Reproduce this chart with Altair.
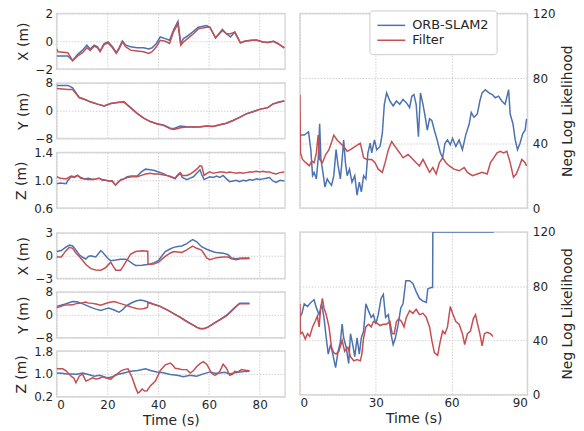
import altair as alt
import pandas as pd

BLUE = "#4C72B0"
RED = "#C44E52"
SERIES = ["ORB-SLAM2", "Filter"]
FONT = "DejaVu Sans"
INK = "#262626"

# ---------------- Trial 1 (top) ----------------
t1_x_orb = [[0,-1.06],[4.4,-1.06],[6.3,-1.39],[8.3,-0.94],[10.2,-0.64],[11.9,-0.28],[13.2,-0.56],[14.8,-0.28],[16.1,-0.4],[17.1,-0.7],[18.7,-0.16],[20.3,-0.05],[22,-0.4],[23.5,-0.82],[24.6,-0.47],[25.9,0.02],[27.2,-0.28],[29.1,-0.4],[31.7,-0.47],[34.3,-0.47],[36.3,-0.56],[37.6,-0.47],[39.3,-0.16],[40.8,0.31],[42.8,0.19],[44.5,0.07],[46,0.78],[47.8,1.44],[48.9,-0.16],[50,0.19],[51.9,0.42],[53.9,0.71],[55.8,1.01],[59.1,1.13],[60.4,1.01],[62.6,0.24],[65.3,0.85],[66.9,0.54],[68.5,0.31],[70.2,0.66],[72.4,-0.12],[74.1,0],[76,0.05],[78.7,0.09],[81.3,-0.05],[83.2,-0.09],[85.4,0],[87.1,-0.16],[89.7,-0.47]]
t1_x_filter = [[0,-0.55],[0.5,-0.75],[4.4,-0.82],[6.3,-1.39],[8.3,-1.06],[10.2,-0.82],[11.9,-0.47],[13.2,-0.66],[14.8,-0.35],[16.1,-0.47],[17.1,-0.75],[18.7,-0.24],[20.3,-0.12],[22,-0.47],[23.5,-0.87],[24.6,-0.55],[25.9,-0.05],[27.2,-0.4],[29.1,-0.64],[31.7,-0.7],[34.3,-0.75],[36.3,-0.87],[37.6,-0.75],[39.3,-0.4],[40.8,0.07],[42.8,0],[44.5,-0.16],[46,0.66],[47.8,1.25],[48.9,-0.28],[50,-0.05],[51.9,0.24],[53.9,0.54],[55.8,0.89],[59.1,1.01],[60.4,1.01],[62.6,0.24],[65.3,0.78],[66.9,0.54],[68.5,0.54],[70.2,0.66],[72.4,-0.12],[74.1,0],[76,0.05],[78.7,0.09],[81.3,-0.05],[83.2,-0.09],[85.4,0],[87.1,-0.16],[89.7,-0.47]]

t1_y_orb = [[0,7.3],[4.4,7.3],[6.3,6.6],[8.9,3.8],[10.9,3.3],[13.5,2.5],[16.1,1.9],[18.7,1.4],[21.3,2.1],[23.9,2.4],[26.5,2.6],[29.1,0.9],[31.7,-0.75],[34.3,-2.1],[36.9,-3.1],[39.5,-3.7],[42.1,-4.1],[44.8,-5.0],[46.3,-5.1],[48.7,-4.4],[51.3,-4.6],[53.9,-4.7],[56.5,-4.6],[59.1,-4.4],[61.6,-4.5],[64.3,-4.0],[66.9,-3.6],[69.5,-2.8],[72.1,-1.9],[74.7,-0.9],[77.3,-0.3],[79.9,0.4],[83.2,0.9],[85.1,1.9],[87.7,2.5],[89.7,2.8]]
t1_y_filter = [[0,6.4],[4.4,6.1],[6.3,6.1],[8.9,3.8],[10.9,3.3],[13.5,2.5],[16.1,1.9],[18.7,1.4],[21.3,2.1],[23.9,2.4],[26.5,2.5],[29.1,0.9],[31.7,-0.75],[34.3,-2.1],[36.9,-3.1],[39.5,-3.8],[42.1,-4.2],[44.8,-5.2],[46.3,-5.4],[48.7,-4.9],[51.3,-4.7],[53.9,-4.7],[56.5,-4.7],[59.1,-4.4],[61.6,-4.5],[64.3,-4.0],[66.9,-3.6],[69.5,-2.8],[72.1,-1.9],[74.7,-0.9],[77.3,-0.3],[79.9,0.4],[83.2,0.9],[85.1,1.9],[87.7,2.5],[89.7,2.8]]

t1_z_orb = [[0,0.95],[1.5,0.96],[3.7,0.95],[4.5,1.0],[5.7,1.05],[7,1.04],[8.3,1.07],[9.5,1.04],[10.9,1.02],[12.5,1.03],[14.1,1.01],[15.5,1.02],[16.7,1.03],[18,1.0],[19.3,1.0],[20.6,0.99],[21.9,0.99],[23.2,0.93],[24.2,0.97],[25.2,1.01],[26.5,1.02],[27.8,1.05],[29.5,1.06],[31.7,1.06],[33.4,1.12],[35,1.16],[36.9,1.15],[38.5,1.14],[40.2,1.12],[41.8,1.1],[43.4,1.07],[45,1.05],[46.7,1.02],[47.5,1.06],[48.7,1.1],[49.5,1.04],[51.3,1.01],[52.6,1.03],[53.9,1.05],[55.2,1.1],[56.5,1.15],[57.2,1.08],[58.1,1.01],[59.2,1.03],[60.4,1.05],[61.7,1.04],[63,1.06],[64.3,1.04],[65.6,1.07],[66.9,1.02],[68.2,0.98],[69.5,0.99],[70.8,1.0],[72.1,0.98],[73.4,1.0],[74.7,0.99],[76,1.01],[77.3,1.0],[78.7,1.02],[80,1.01],[81.3,1.02],[82.6,1.03],[83.9,1.04],[85.2,0.99],[86.5,0.97],[88,1.0],[89.7,0.99]]
t1_z_filter = [[0,1.05],[1.5,1.03],[3.7,1.02],[5.7,1.06],[7,1.05],[8.3,1.07],[9.5,1.03],[10.9,1.02],[12.5,1.01],[14.1,1.01],[15.5,1.02],[16.7,1.03],[18,1.01],[19.3,1.0],[20.6,0.99],[21.9,0.99],[23.2,0.93],[24.2,0.97],[25.2,1.0],[26.5,1.02],[27.8,1.04],[29.5,1.05],[31.7,1.05],[33.4,1.07],[35,1.09],[36.9,1.1],[38.5,1.09],[40.2,1.09],[41.8,1.08],[43.4,1.07],[45,1.05],[46.7,1.03],[47.5,1.07],[48.7,1.11],[49.5,1.07],[51.3,1.07],[52.6,1.09],[53.9,1.12],[55.2,1.16],[56.5,1.21],[57.2,1.2],[58.1,1.07],[59.2,1.1],[60.4,1.12],[61.7,1.1],[63,1.11],[64.3,1.12],[65.6,1.12],[66.9,1.11],[68.2,1.12],[69.5,1.11],[70.8,1.1],[72.1,1.11],[73.4,1.1],[74.7,1.11],[76,1.12],[77.3,1.12],[78.7,1.13],[80,1.12],[81.3,1.13],[82.6,1.12],[83.9,1.12],[85.2,1.1],[86.5,1.09],[88,1.11],[89.7,1.12]]

t1_nll_orb = [[0,45],[1.7,45],[3.4,47],[4.3,36],[5,20],[5.6,22],[6.5,18],[7.3,32],[7.8,52],[8.3,30],[9.1,22],[9.9,13],[10.8,18],[11.5,16],[12.5,14],[13.4,20],[14.3,36],[15.1,26],[16,18],[16.7,30],[17.3,42],[18,28],[18.7,20],[19.6,24],[20.6,16],[21.7,20],[22.6,8],[23.5,16],[24.3,10],[25.2,20],[26.1,18],[26.9,34],[27.8,40],[28.4,34],[29.5,42],[30.4,36],[31.7,38],[32.6,46],[33.4,64],[34.3,71],[35.6,66],[36.9,63],[38.2,66],[39.5,64],[40.8,67],[42.1,65],[43.4,62],[44.3,69],[45.1,70],[46,64],[46.9,44],[47.7,71],[48.7,64],[49.6,56],[50.4,48],[51.3,55],[52.2,54],[53.2,48],[54.3,42],[55.6,34],[56.5,31],[57.4,40],[58.4,42],[59.5,39],[60.4,43],[61.7,38],[63,42],[64.3,36],[65.6,45],[67,52],[67.8,59],[68.9,56],[70.2,58],[71.2,66],[72.1,71],[73.4,73],[74.8,71],[76.1,70],[77.3,68],[78.6,69],[79.9,66],[81.2,64],[82.6,73],[83.2,58],[84.3,52],[85.2,42],[86.1,36],[87.1,40],[88.2,46],[89.1,48],[89.7,55]]
t1_nll_filter = [[0,70],[0.2,34],[1,30],[2.3,28],[3.7,26],[4.7,29],[5.6,28],[6.5,34],[7.2,45],[7.8,30],[8.9,28],[10.2,33],[11.5,36],[12.8,42],[13.4,45],[14.7,42],[16,40],[17.3,38],[18.7,35],[20,36],[21.9,38],[23.9,40],[25.2,31],[26.5,30],[28.4,30],[29.7,28],[31,24],[32.6,22],[33.7,28],[35,36],[36.3,41],[37.6,38],[39.5,34],[40.8,31],[42.8,33],[44.8,30],[46,28],[47.3,26],[48.7,30],[50,26],[51.3,22],[52.6,25],[53.9,21],[55.2,28],[56.5,31],[57.8,28],[59.1,26],[61,24],[63,23],[65,25],[66.3,22],[68.3,20],[70.2,21],[72.1,22],[74.1,21],[75.4,28],[76.7,31],[78,34],[79.3,35],[80.6,34],[81.9,35],[83.2,28],[84.5,19],[85.6,21],[86.9,26],[87.8,30],[89.1,28],[89.7,26]]

# ---------------- Trial 2 (bottom) ----------------
t2_x_orb = [[0,0.55],[1.8,0.68],[3.5,1.1],[5,1.4],[6.3,1.28],[7.5,0.8],[8.9,0.13],[10.2,-0.2],[11.5,-0.43],[12.5,-0.1],[13.5,0],[14.5,-0.1],[15.4,-0.17],[16.5,0.3],[17.4,0.68],[18.3,0.4],[19.3,0],[20.3,-0.4],[21.3,-0.64],[23.3,-0.55],[25.2,-0.45],[27.2,-0.45],[28.2,-0.6],[29.1,-0.85],[30.2,-1.1],[31.1,-1.28],[33.7,-1.24],[35.6,-1.15],[36.5,-1.1],[38.2,-0.94],[40.2,-0.6],[41.5,0.0],[42.8,0.55],[44.5,0.85],[46.1,1.1],[47.7,1.2],[49.3,1.28],[51.3,1.6],[52.5,1.9],[53.6,2.13],[55.2,1.83],[57.1,1.19],[59.1,0.85],[60.4,0.68],[62,0.5],[63,0.43],[65.6,0.34],[67.6,0.13],[68.9,-0.3],[70.8,-0.38],[72.8,-0.3],[74.5,-0.3],[76,-0.3]]
t2_x_filter = [[0,-0.17],[1.8,-0.17],[3.5,0.6],[5,1.1],[6.3,0.98],[7.5,0.4],[8.9,-0.09],[10.2,-0.6],[11.5,-1.15],[13.5,-1.7],[15.4,-1.87],[17.4,-1.9],[19.3,-1.57],[20.3,-1.2],[21.3,-0.85],[22.3,-1.4],[23.3,-1.9],[25.2,-1.9],[26.2,-1.4],[27.2,-0.85],[28.2,-0.3],[29.1,0.2],[31.1,0.55],[33.7,0.64],[35.9,0.6],[36.0,-1.15],[38.2,-1.1],[40.2,-0.85],[41.5,-0.45],[42.8,-0.09],[44.5,0.3],[46.1,0.55],[47.7,0.5],[49.3,0.43],[51.3,0.77],[52.5,1.05],[53.6,1.28],[55.2,0.98],[57.1,0.75],[58.2,0.2],[59.1,-0.3],[60.4,-0.51],[63,-0.25],[65.6,-0.17],[67.6,-0.17],[68.9,-0.4],[70.8,-0.51],[72.8,-0.38],[74.5,-0.4],[76,-0.35]]

t2_y_orb = [[0,2.95],[3.1,3.7],[6.3,4.65],[8,4.6],[9.6,4.1],[11.5,3.4],[13.5,2.6],[15.5,2.0],[17.4,1.5],[19,2.0],[20.6,2.4],[22.6,1.7],[24.6,0.9],[26,1.8],[27.2,2.95],[28.5,3.7],[29.8,4.3],[31.5,4.9],[33,5.2],[34.5,4.9],[35.6,4.6],[38.2,3.7],[40.8,2.95],[42.5,2.2],[44.1,1.5],[45.8,0.6],[47.4,-0.2],[49,-1.0],[50.6,-1.9],[52.3,-2.8],[53.9,-3.6],[55.2,-4.3],[56.5,-4.8],[58.1,-4.8],[59.7,-4.2],[61.7,-3.1],[64.3,-1.7],[66.9,-0.2],[68.2,0.9],[69.5,2.0],[70.8,3.1],[72.1,4.1],[73.4,4.1],[76,4.1]]
t2_y_filter = [[0,2.5],[3.1,3.4],[6.3,3.5],[8,4.0],[9.6,4.1],[11.5,4.5],[12.5,4.1],[13.5,4.1],[15.5,3.8],[17.4,3.4],[19,3.9],[20.6,4.3],[22.6,4.65],[24.6,4.1],[27.2,3.4],[28.5,3.0],[29.8,2.6],[31.5,2.2],[33,2.0],[34.5,2.2],[35.8,2.6],[36.0,4.3],[38.2,3.7],[40.8,2.95],[42.5,2.2],[44.1,1.5],[45.8,0.6],[47.4,-0.3],[49,-1.1],[50.6,-2.0],[52.3,-2.9],[53.9,-3.7],[55.2,-4.4],[56.5,-4.9],[58.1,-4.9],[59.7,-4.3],[61.7,-3.2],[64.3,-1.8],[66.9,-0.4],[68.2,0.7],[69.5,1.8],[70.8,2.9],[72.1,3.9],[73.4,3.9],[76,3.9]]

t2_z_orb = [[0,1.03],[2,1.02],[4,1.0],[5.7,1.0],[8,0.99],[10.2,1.03],[12.5,0.98],[14.8,0.92],[17,0.95],[20,0.86],[22,0.9],[23.9,0.98],[26.5,1.03],[29.1,1.09],[32,1.12],[35,1.18],[37,1.12],[39.5,1.07],[42,1.04],[44.8,0.98],[47.5,0.95],[50,0.9],[52.5,0.95],[55.2,0.92],[57.8,1.0],[60.4,1.07],[62.3,1.02],[64.3,1.03],[66.3,1.06],[68.2,1.0],[70.2,1.04],[72.1,1.07],[74,1.08],[76,1.09]]
t2_z_filter = [[0,1.18],[2.4,1.18],[3.7,1.11],[5.7,0.92],[6.8,0.85],[7.6,0.69],[8.9,0.92],[10.2,1.0],[11.5,0.75],[12.8,0.8],[14.1,0.86],[15.5,0.82],[16.7,0.84],[18,0.9],[19.3,0.86],[21.3,0.81],[22.6,0.92],[23.9,1.0],[25.2,1.1],[26.5,1.15],[28.1,1.18],[29.8,0.86],[31.1,0.52],[32,0.33],[32.8,0.38],[33.7,0.47],[34.6,0.4],[35.6,0.41],[36.9,0.58],[38.9,0.75],[40.8,1.11],[42.8,1.32],[44.8,1.38],[45.8,1.3],[46.7,1.2],[48,1.18],[49.3,1.15],[51.3,1.15],[52.6,1.03],[54,1.12],[55.2,1.26],[56.5,1.36],[57.8,1.43],[59.1,1.34],[60,1.2],[61,1.03],[62.3,0.95],[63.3,1.0],[64.3,1.09],[65.6,1.34],[66.9,1.2],[68.2,0.95],[69.2,0.98],[70.2,1.09],[71.5,1.07],[72.8,1.15],[74.3,1.13],[76,1.11]]

t2_nll_orb = [[0,57],[0.8,60],[1.7,67],[3,65],[4.3,68],[5.6,70],[6.5,64],[7.6,59],[8.6,67],[9.5,57],[10.4,42],[11.2,30],[12.1,37],[13,30],[14.1,20],[15.1,32],[16,39],[16.7,52],[17.3,42],[18.3,35],[19.3,23],[20,45],[20.9,37],[21.7,28],[22.6,42],[23.5,30],[24.3,42],[25.2,47],[26.1,67],[27.1,62],[28.2,57],[29.1,59],[30,52],[31,59],[32.1,71],[33,74],[33.9,57],[35,59],[36,45],[36.9,37],[37.8,42],[38.9,52],[39.9,64],[40.8,67],[41.9,84],[43.4,84],[44.7,82],[46,76],[47.3,71],[48.7,69],[50,68],[50.6,78],[51.9,79],[52.5,79],[52.6,120],[60,120],[70,120],[76.7,120]]
t2_nll_filter = [[0,67],[0.2,45],[1,46],[2.1,41],[3,45],[3.9,43],[5,50],[6,54],[6.9,58],[7.6,50],[8.2,64],[8.9,71],[9.5,64],[10.4,59],[11.5,50],[12.5,35],[13.4,31],[14.3,30],[15.4,32],[16.7,40],[17.7,32],[19,35],[20,28],[21.3,25],[22.6,26],[23.9,25],[24.5,30],[25.2,42],[26.1,50],[27.1,52],[28.2,50],[29.1,54],[30.4,53],[31.7,51],[33,52],[34.3,52],[35.6,54],[36.5,45],[37.3,45],[38.2,54],[39.1,56],[40.2,54],[41.2,50],[42.1,57],[43.4,62],[44.7,60],[46,63],[47.3,59],[48.7,60],[50,57],[51.3,50],[52.2,40],[53.2,31],[54.5,29],[55.6,40],[56.5,47],[57.4,45],[58.4,50],[59.5,65],[60.4,60],[61.7,54],[63,52],[64.3,45],[65.2,37],[66.3,45],[67.5,47],[68.6,56],[69.5,59],[70.2,53],[71.2,45],[72.1,36],[73,45],[74.1,46],[75.4,45],[76.4,43]]


def frame(pairs, name):
    return pd.DataFrame({"t": [p[0] for p in pairs],
                         "v": [p[1] for p in pairs],
                         "series": name})


COLOR_SCALE = alt.Scale(domain=SERIES, range=[BLUE, RED])


def panel(orb, filt, ytitle, ydom, yticks, yfmt, h, w, xticks, show_x,
          right=False, legend=None):
    xaxis = alt.Axis(values=xticks, labels=show_x, labelPadding=3, titlePadding=3,
                     title="Time (s)" if show_x else None)
    if right:
        yaxis = alt.Axis(values=yticks, title=ytitle, format=yfmt, orient="right",
                         titleAngle=270, titleBaseline="top", labelPadding=5,
                         titlePadding=6)
    else:
        yaxis = alt.Axis(values=yticks, title=ytitle, format=yfmt, orient="left",
                         labelPadding=4, titlePadding=5)
    layers = []
    for pairs, name in ((orb, SERIES[0]), (filt, SERIES[1])):
        layers.append(
            alt.Chart(frame(pairs, name)).mark_line(strokeWidth=1.5, clip=True).encode(
                x=alt.X("t:Q", scale=alt.Scale(domain=[0, 90], nice=False, zero=False), axis=xaxis),
                y=alt.Y("v:Q", scale=alt.Scale(domain=ydom, nice=False, zero=False), axis=yaxis),
                color=alt.Color("series:N", scale=COLOR_SCALE, legend=legend),
            )
        )
    return alt.layer(*layers).properties(width=w, height=h)


LEFT_TICKS = [0, 20, 40, 60, 80]
RIGHT_TICKS = [0, 30, 60, 90]

legend = alt.Legend(title=None, orient="none", legendX=70, legendY=-3,
                    symbolType="M-1,0H3", symbolSize=196, symbolStrokeWidth=1.5,
                    labelFontSize=13, labelFont=FONT, labelColor=INK,
                    padding=7, rowPadding=0, labelOffset=20,
                    fillColor="white", strokeColor="#cccccc", cornerRadius=3)

p1 = panel(t1_x_orb, t1_x_filter, "X (m)", [-2, 2], [-2, 0, 2], "d", 56, 230, LEFT_TICKS, False)
p2 = panel(t1_y_orb, t1_y_filter, "Y (m)", [-8, 8], [-8, 0, 8], "d", 56, 230, LEFT_TICKS, False)
p3 = panel(t1_z_orb, t1_z_filter, "Z (m)", [0.6, 1.4], [0.6, 1.0, 1.4], ".1f", 56, 230, LEFT_TICKS, False)
p4 = panel(t2_x_orb, t2_x_filter, "X (m)", [-3, 3], [-3, 0, 3], "d", 46, 230, LEFT_TICKS, False)
p5 = panel(t2_y_orb, t2_y_filter, "Y (m)", [-8, 8], [-8, 0, 8], "d", 46, 230, LEFT_TICKS, False)
p6 = panel(t2_z_orb, t2_z_filter, "Z (m)", [0.2, 1.8], [0.2, 1.0, 1.8], ".1f", 46, 230, LEFT_TICKS, True)

r1 = panel(t1_nll_orb, t1_nll_filter, "Neg Log Likelihood", [0, 120], [0, 40, 80, 120], "d",
           196, 229, RIGHT_TICKS, False, right=True, legend=legend)
r2 = panel(t2_nll_orb, t2_nll_filter, "Neg Log Likelihood", [0, 120], [0, 40, 80, 120], "d",
           164, 229, RIGHT_TICKS, True, right=True)

top_left = alt.vconcat(p1, p2, p3, spacing=14, bounds="flush")
bottom_left = alt.vconcat(p4, p5, p6, spacing=13.5, bounds="flush")
left = alt.vconcat(top_left, bottom_left, spacing=11)
right = alt.vconcat(r1, r2, spacing=24, bounds="flush")

chart = alt.hconcat(left, right, spacing=13).resolve_legend(
    color="independent"
).properties(
    padding={"top": -3, "left": 6, "right": 0, "bottom": 0}
).configure(
    font=FONT,
).configure_view(
    stroke="#d9d9d9", strokeWidth=1.5
).configure_axis(
    domain=False, ticks=False,
    labelFont=FONT, labelFontSize=12, labelColor=INK,
    titleFont=FONT, titleFontSize=14, titleFontWeight="normal", titleColor=INK,
    gridColor="#d0d0d0", gridDash=[1.5, 1.5], gridWidth=1,
)

chart.save("out.html", embed_options={"renderer": "svg", "actions": False})
